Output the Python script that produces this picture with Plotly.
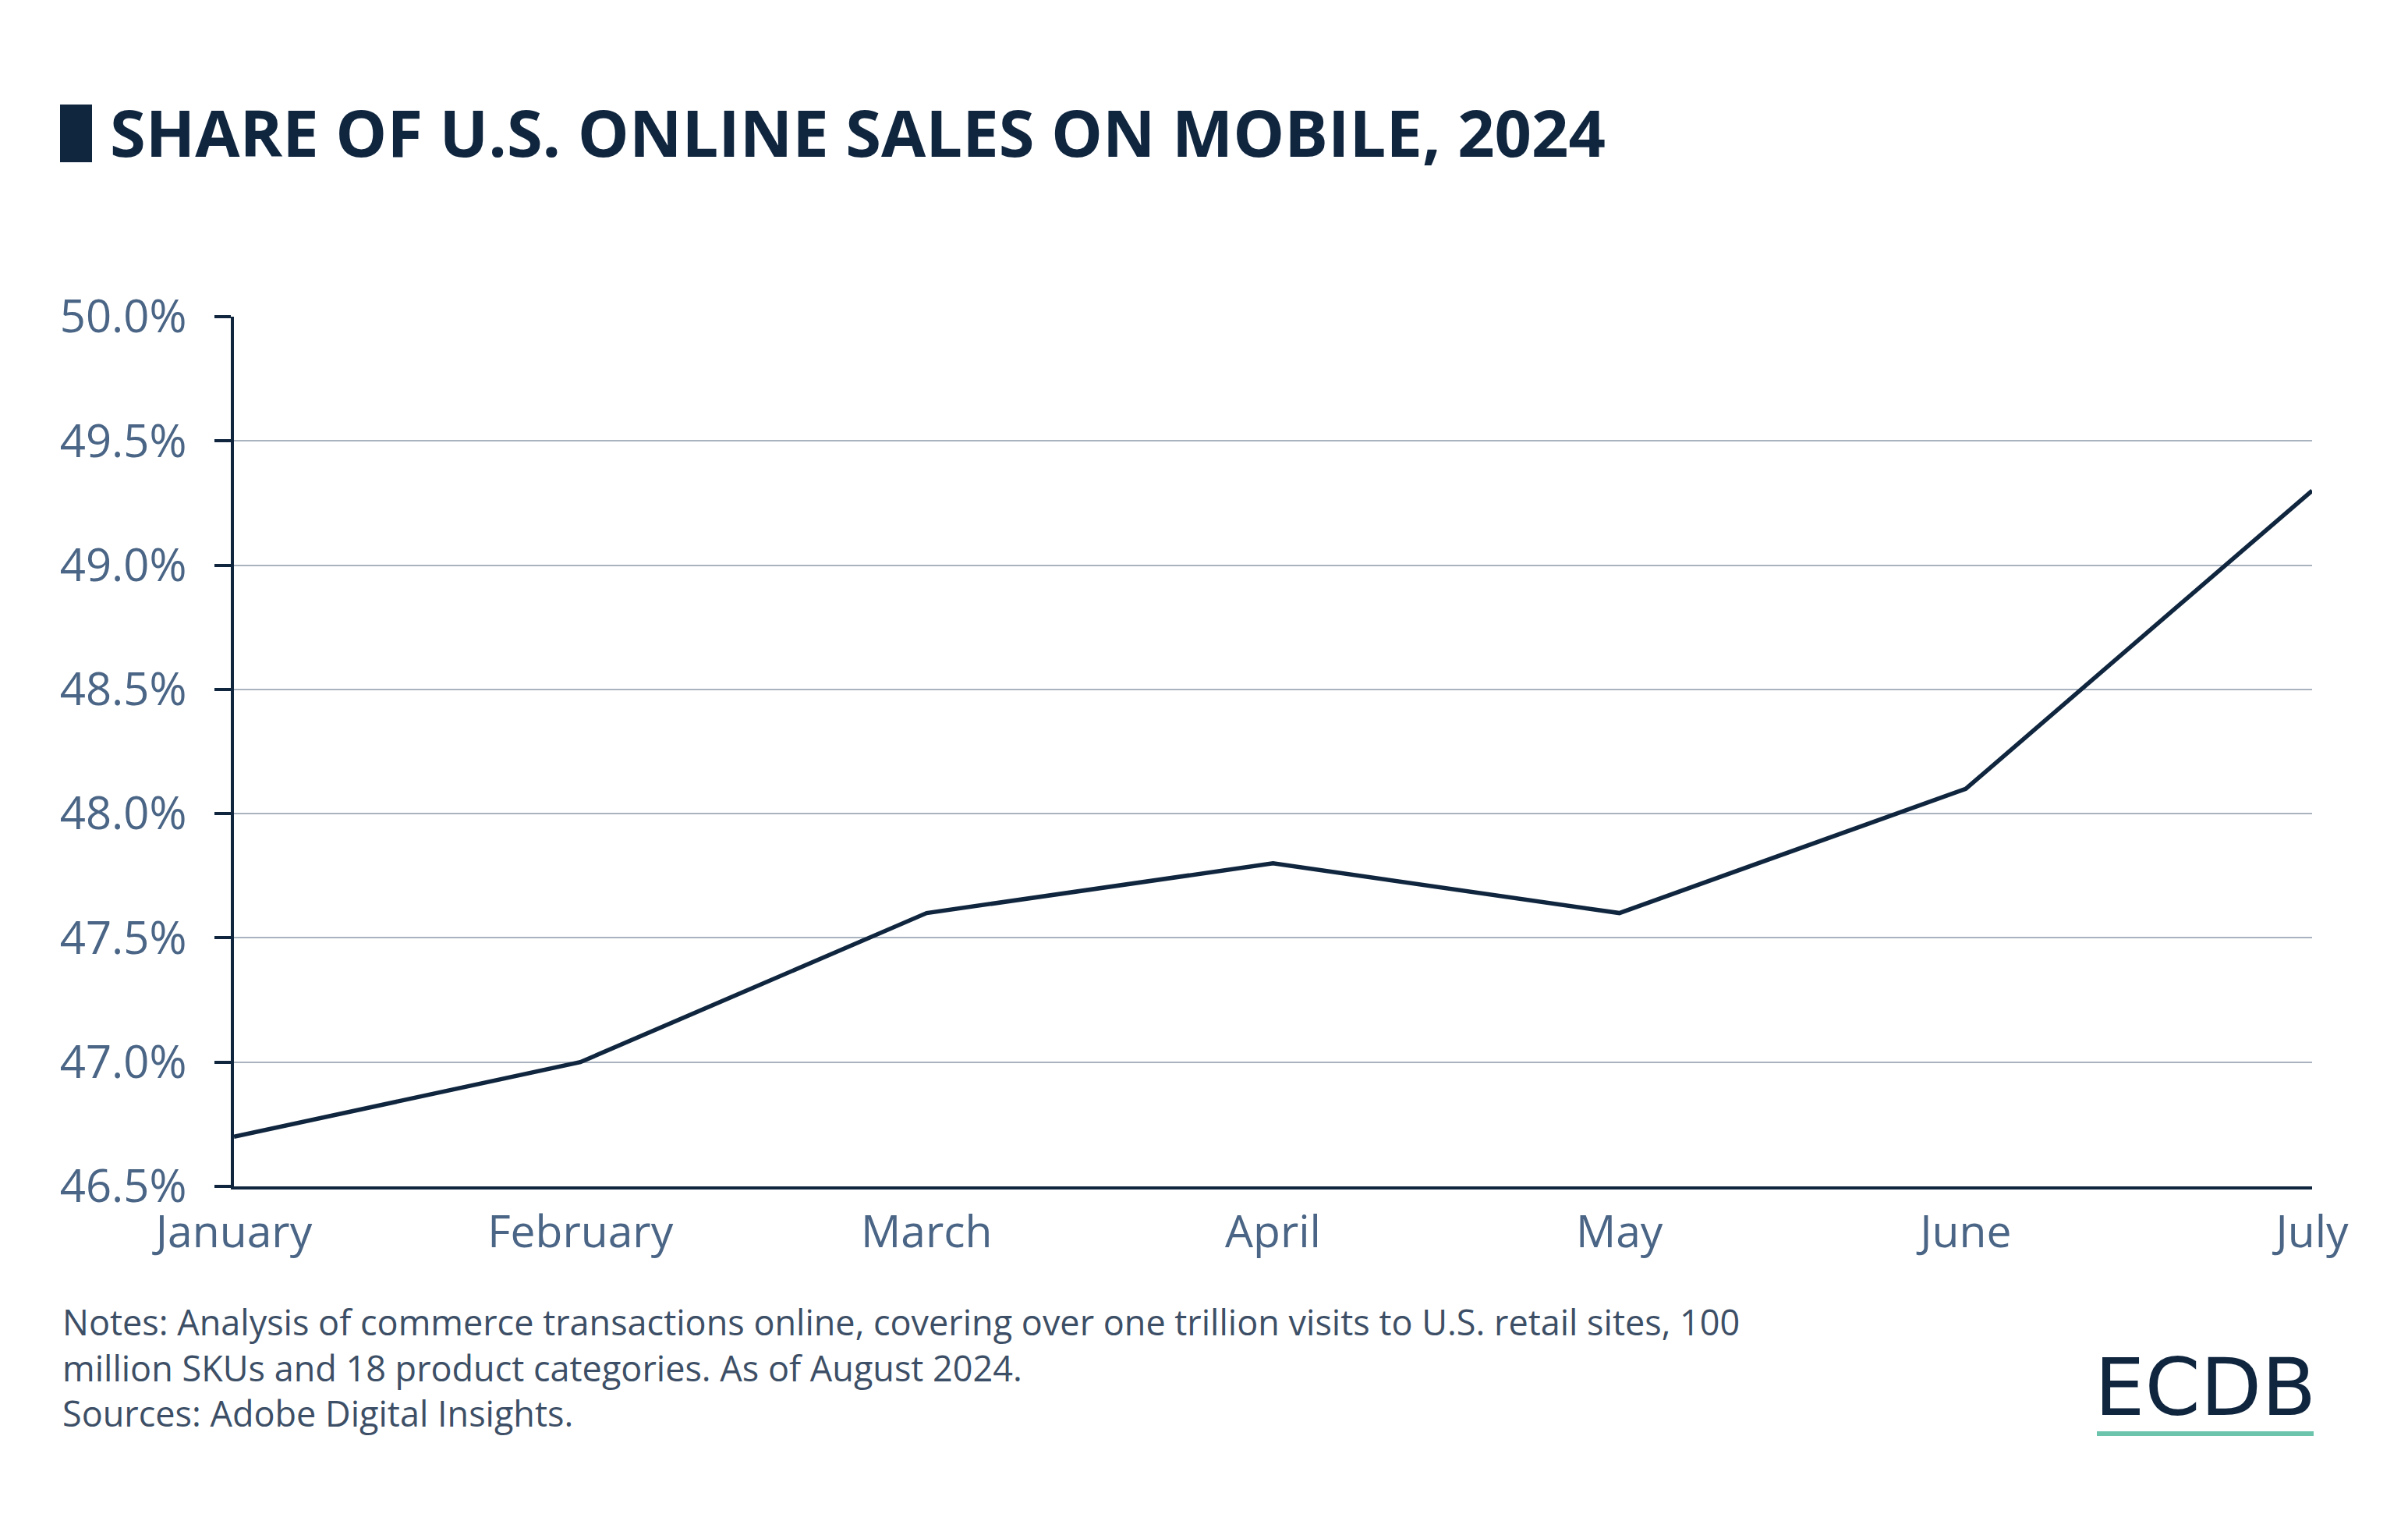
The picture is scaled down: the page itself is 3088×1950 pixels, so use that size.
import plotly.graph_objects as go

months = ["January", "February", "March", "April", "May", "June", "July"]
share = [46.7, 47.0, 47.6, 47.8, 47.6, 48.1, 49.3]
y_ticks = [46.5, 47.0, 47.5, 48.0, 48.5, 49.0, 49.5, 50.0]
y_tick_labels = [f"{v:.1f}%" for v in y_ticks]
note_lines = [
    "Notes: Analysis of commerce transactions online, covering over one trillion visits to U.S. retail sites, 100",
    "million SKUs and 18 product categories. As of August 2024.",
    "Sources: Adobe Digital Insights.",
]

DARK = "#10263f"
TICK = "#4a6585"
OFF = 8  # page body margin
W, H = 3088 - OFF, 1950 - OFF
# plot area in page coordinates: x 300..2965, y 406..1521
ML, MR, MT, MB = 300 - OFF, 3088 - 2965, 406 - OFF, 1950 - 1521
PW, PH = W - ML - MR, H - MT - MB


def px(x):
    return (x - OFF - ML) / PW


def py(y):
    return (H - MB - (y - OFF)) / PH


fig = go.Figure()
fig.add_trace(go.Scatter(x=months, y=share, mode="lines",
                         line=dict(color=DARK, width=5.5), hoverinfo="skip"))

fig.update_layout(
    width=W, height=H,
    paper_bgcolor="white", plot_bgcolor="white",
    margin=dict(l=ML, r=MR, t=MT, b=MB),
    showlegend=False,
    font=dict(family="Open Sans", color=TICK),
    xaxis=dict(range=[0, 6], showgrid=False, showline=True, linecolor=DARK, linewidth=4,
               ticks="", tickfont=dict(size=57, color=TICK), ticklabelstandoff=6),
    yaxis=dict(range=[46.5, 50.0], tickvals=y_ticks, ticktext=y_tick_labels,
               showgrid=True, gridcolor="#a9b3c0", gridwidth=1.5,
               showline=True, linecolor=DARK, linewidth=4,
               ticks="outside", ticklen=21, tickwidth=4, tickcolor=DARK,
               ticklabelstandoff=24,
               tickfont=dict(size=58, color=TICK), zeroline=False),
)

# title block and title
fig.add_shape(type="rect", xref="paper", yref="paper",
              x0=px(77), x1=px(118), y0=py(208), y1=py(134),
              fillcolor=DARK, line=dict(width=0))
fig.add_annotation(text="<b>SHARE OF U.S. ONLINE SALES ON MOBILE, 2024</b>",
                   xref="paper", yref="paper",
                   x=px(139), y=py(168),
                   xanchor="left", yanchor="middle", showarrow=False,
                   font=dict(family="Open Sans", size=83, color=DARK))

# notes
fig.add_annotation(text="<br>".join(note_lines), xref="paper", yref="paper", align="left",
                   x=px(78), y=py(1662),
                   xanchor="left", yanchor="top", showarrow=False,
                   font=dict(family="Open Sans", size=45, color="#3d4f66"))

# logo
fig.add_annotation(text="ECDB", xref="paper", yref="paper",
                   x=px(2972), y=py(1778),
                   xanchor="right", yanchor="middle", showarrow=False,
                   font=dict(family="DejaVu Sans", size=102, color=DARK))
fig.add_shape(type="line", xref="paper", yref="paper",
              x0=px(2689), x1=px(2967), y0=py(1838), y1=py(1838),
              line=dict(color="#6cc4ad", width=6))

fig.write_html("out.html")
